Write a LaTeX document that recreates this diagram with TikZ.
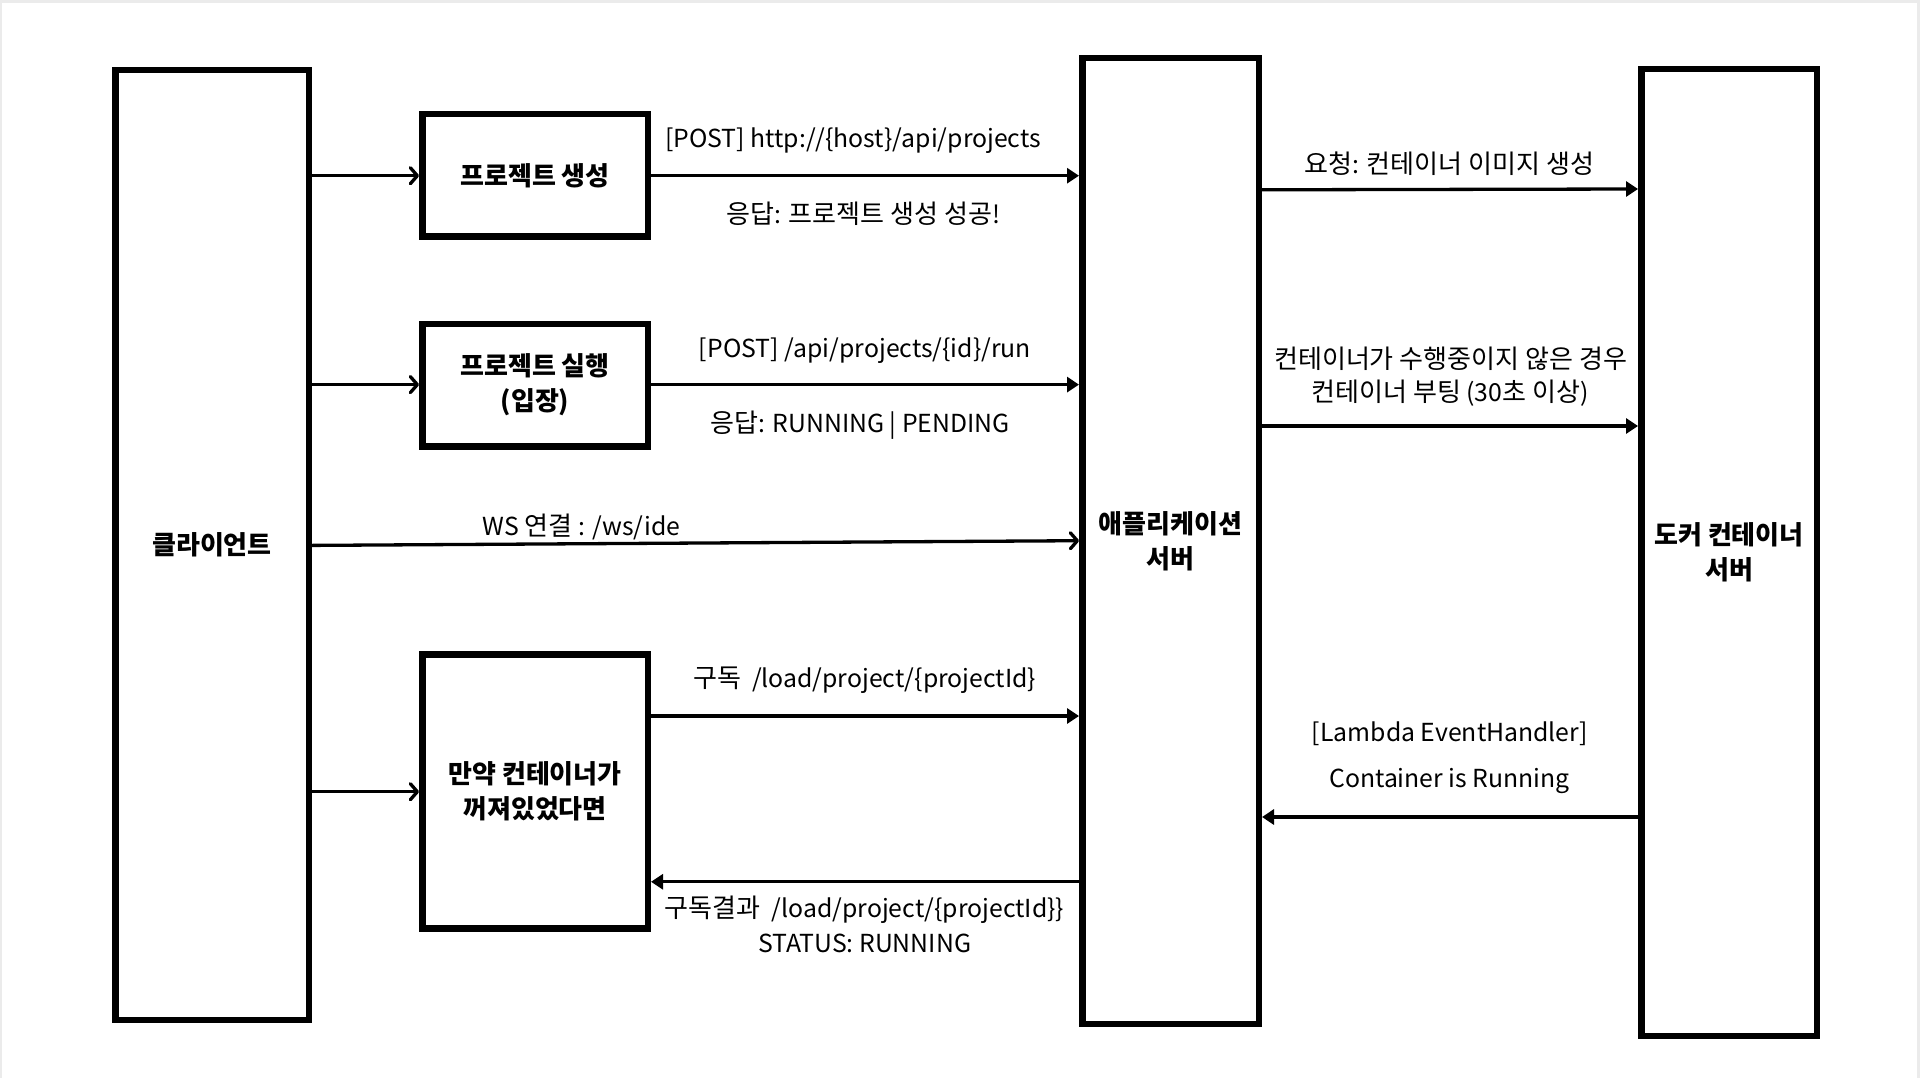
\documentclass[tikz,border=0pt]{standalone}
\usepackage{fontspec}
\setmainfont{Noto Sans CJK KR}
\newfontfamily\hangulfont{Noto Sans CJK KR}[Scale=1.05]
\usetikzlibrary{arrows.meta}
\newcommand\boxfont{\fontsize{26}{35}\selectfont\bfseries}
\newcommand\lblfont{\fontsize{24.8}{29}\selectfont}
\newcommand\hg[1]{{\hangulfont #1}}
\begin{document}
\begin{tikzpicture}[x=1pt,y=-1pt,
  box/.style={draw=black, line width=6.5pt, inner sep=0pt, align=center, font=\boxfont},
  lbl/.style={anchor=base, inner sep=0pt, font=\lblfont},
  chev/.style={line width=3.3pt, -{Straight Barb[length=7pt,width=16pt,round]}},
  fl/.style={line width=3.3pt, -{Triangle[length=12pt,width=15pt]}}]
\useasboundingbox (0,0) rectangle (1920,1078);
\fill[black!8!white] (0,0) rectangle (1920,1078);
\fill[white] (2,3) rectangle (1917,1078);
% boxes
\node[box, minimum width=193.5pt, minimum height=949.5pt] (client) at (212,545) {클라이언트};
\node[box, minimum width=225.5pt, minimum height=122.5pt] (pcreate) at (535,175.5) {프로젝트 생성};
\node[box, minimum width=225.5pt, minimum height=122.5pt] (prun) at (535,385.2) {프로젝트 실행\\(입장)};
\node[box, minimum width=225.5pt, minimum height=274pt] (pif) at (535,791.25) {만약 컨테이너가\\꺼져있었다면};
\node[box, minimum width=176.5pt, minimum height=965.5pt] (app) at (1170.5,541) {애플리케이션\\서버};
\node[box, minimum width=175.5pt, minimum height=966.5pt] (docker) at (1729,552.5) {도커 컨테이너\\서버};
% connectors
\draw[chev] (client.east |- 0,175.7) -- (pcreate.west |- 0,175.7);
\draw[chev] (client.east |- 0,384.6) -- (prun.west |- 0,384.6);
\draw[chev] (client.east |- 0,791.7) -- (pif.west |- 0,791.7);
\draw[chev] (client.east |- 0,545.4) -- (app.west |- 0,540.7);
\draw[fl] (pcreate.east |- 0,175.7) -- (app.west |- 0,175.7);
\draw[fl] (prun.east |- 0,384.6) -- (app.west |- 0,384.6);
\draw[fl] (pif.east |- 0,716) -- (app.west |- 0,716);
\draw[fl] (app.west |- 0,881.8) -- (pif.east |- 0,881.8);
\draw[fl] (app.east |- 0,189.8) -- (docker.west |- 0,189);
\draw[fl] (app.east |- 0,426) -- (docker.west |- 0,426);
\draw[fl] (docker.west |- 0,817) -- (app.east |- 0,817);
% labels
\node[lbl] (l1) at (853,148) {[POST] http://\{host\}/api/projects};
\node[lbl] (l2) at (863.5,224) {\hg{응답}: \hg{프로젝트 생성 성공}!};
\node[lbl] (l3) at (865,357) {[POST] /api/projects/\{id\}/run};
\node[lbl] (l4) at (860,432.5) {\hg{응답}: RUNNING | PENDING};
\node[lbl] (l5) at (581.6,535.8) {WS \hg{연결} : /ws/ide};
\node[lbl] (l6) at (864.6,687.4) {\hg{구독}\ \ /load/project/\{projectId\}};
\node[lbl] (l7) at (864.6,917) {\hg{구독결과}\ \ /load/project/\{projectId\}\}};
\node[lbl] (l8) at (864.6,952.4) {STATUS: RUNNING};
\node[lbl] (l9) at (1449.5,174) {\hg{요청}: \hg{컨테이너 이미지 생성}};
\node[lbl] (l10) at (1450.6,368) {\hg{컨테이너가 수행중이지 않은 경우}};
\node[lbl] (l11) at (1450,401) {\hg{컨테이너 부팅} (30\hg{초 이상})};
\node[lbl] (l12) at (1449.8,741) {[Lambda EventHandler]};
\node[lbl] (l13) at (1449.5,787.4) {Container is Running};
\end{tikzpicture}
\end{document}
